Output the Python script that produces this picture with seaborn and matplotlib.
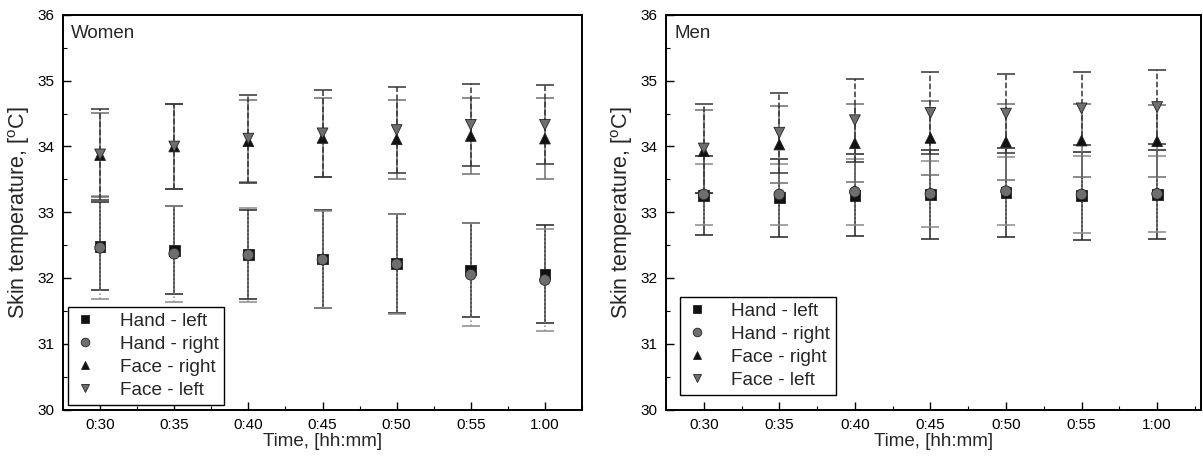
import numpy as np
import pandas as pd
import matplotlib
matplotlib.use("Agg")
import matplotlib.pyplot as plt
from matplotlib.ticker import MultipleLocator
import seaborn as sns

# Measurement times (hh:mm after start)
times = ["0:30", "0:35", "0:40", "0:45", "0:50", "0:55", "1:00"]
sites = ["Hand - left", "Hand - right", "Face - right", "Face - left"]

# Women: mean skin temperature [°C] and standard deviation
women_hand_left = [32.48, 32.42, 32.36, 32.29, 32.22, 32.12, 32.06]
women_hand_left_sd = [0.67, 0.67, 0.68, 0.74, 0.75, 0.72, 0.74]
women_hand_right = [32.46, 32.37, 32.35, 32.28, 32.21, 32.05, 31.97]
women_hand_right_sd = [0.78, 0.73, 0.72, 0.74, 0.76, 0.78, 0.78]
women_face_right = [33.87, 34.00, 34.08, 34.13, 34.11, 34.16, 34.12]
women_face_right_sd = [0.64, 0.65, 0.62, 0.60, 0.60, 0.58, 0.61]
women_face_left = [33.88, 34.00, 34.12, 34.20, 34.25, 34.33, 34.33]
women_face_left_sd = [0.69, 0.65, 0.67, 0.66, 0.65, 0.62, 0.60]

# Men: mean skin temperature [°C] and standard deviation
men_hand_left = [33.25, 33.22, 33.26, 33.27, 33.30, 33.25, 33.27]
men_hand_left_sd = [0.60, 0.59, 0.62, 0.67, 0.67, 0.67, 0.68]
men_hand_right = [33.27, 33.27, 33.31, 33.28, 33.32, 33.27, 33.28]
men_hand_right_sd = [0.47, 0.46, 0.50, 0.50, 0.52, 0.58, 0.58]
men_face_right = [33.93, 34.03, 34.05, 34.13, 34.07, 34.09, 34.08]
men_face_right_sd = [0.63, 0.59, 0.59, 0.56, 0.58, 0.56, 0.55]
men_face_left = [33.97, 34.21, 34.40, 34.51, 34.50, 34.58, 34.60]
men_face_left_sd = [0.67, 0.61, 0.63, 0.62, 0.60, 0.56, 0.56]

women = {
    "Hand - left": (women_hand_left, women_hand_left_sd),
    "Hand - right": (women_hand_right, women_hand_right_sd),
    "Face - right": (women_face_right, women_face_right_sd),
    "Face - left": (women_face_left, women_face_left_sd),
}
men = {
    "Hand - left": (men_hand_left, men_hand_left_sd),
    "Hand - right": (men_hand_right, men_hand_right_sd),
    "Face - right": (men_face_right, men_face_right_sd),
    "Face - left": (men_face_left, men_face_left_sd),
}

markers = {"Hand - left": "s", "Hand - right": "o",
           "Face - right": "^", "Face - left": "v"}
face_colors = {"Hand - left": "#111111", "Hand - right": "#6e6e6e",
               "Face - right": "#111111", "Face - left": "#6e6e6e"}
err_styles = {"Hand - left": ("#222222", "-"), "Hand - right": ("#8a8a8a", ":"),
              "Face - right": ("#6e6e6e", "-"), "Face - left": ("#333333", "--")}

sns.set_theme(style="ticks")
plt.rcParams["font.family"] = ["Liberation Sans", "DejaVu Sans"]
plt.rcParams["mathtext.fontset"] = "custom"
plt.rcParams["mathtext.rm"] = "Liberation Sans"
plt.rcParams["mathtext.it"] = "Liberation Sans"

fig = plt.figure(figsize=(12.03, 4.61), dpi=100)
ax_w = fig.add_axes([0.0524, 0.1117, 0.4314, 0.8558])
ax_m = fig.add_axes([0.5536, 0.1117, 0.4447, 0.8558])


def draw_panel(ax, data, title, xmax, legend_anchor):
    x = np.arange(len(times))
    frames = []
    for site in sites:
        mean, sd = data[site]
        frames.append(pd.DataFrame({"pos": x, "temp": mean, "site": site}))
    df = pd.concat(frames, ignore_index=True)

    for site in sites:
        mean, sd = data[site]
        color, ls = err_styles[site]
        eb = ax.errorbar(x, mean, yerr=sd, fmt="none", ecolor=color,
                         elinewidth=1.1, capsize=6.5, capthick=1.1, zorder=2)
        eb[2][0].set_linestyle(ls)

    sns.scatterplot(data=df, x="pos", y="temp", hue="site", style="site",
                    hue_order=sites, style_order=sites,
                    palette=face_colors, markers=markers, s=60,
                    edgecolor="#222222", linewidth=0.6, ax=ax, zorder=3,
                    legend=True)

    ax.set_xlim(-0.5, xmax)
    ax.set_ylim(30, 36)
    ax.set_xticks(x)
    ax.set_xticklabels(times)
    ax.xaxis.set_minor_locator(MultipleLocator(0.5))
    ax.yaxis.set_major_locator(MultipleLocator(1))
    ax.yaxis.set_minor_locator(MultipleLocator(0.5))
    ax.tick_params(axis="both", which="major", direction="in", length=6,
                   width=1, labelsize=11, pad=6, color="black",
                   labelcolor="black")
    ax.tick_params(axis="both", which="minor", direction="in", length=3,
                   width=0.8, color="black")
    ax.tick_params(top=False, right=False, which="both")
    for sp in ax.spines.values():
        sp.set_color("black")
        sp.set_linewidth(1.4)

    ax.set_xlabel("Time, [hh:mm]", fontsize=13.5, labelpad=1)
    ax.set_ylabel("Skin temperature, [$^{o}$C]", fontsize=15.5, labelpad=4)
    ax.text(0.016, 0.975, title, transform=ax.transAxes, fontsize=13.5,
            ha="left", va="top")

    handles, labels = ax.get_legend_handles_labels()
    leg = ax.legend(handles, labels, loc="lower left",
                    bbox_to_anchor=legend_anchor, fontsize=13.7,
                    frameon=True, fancybox=False, framealpha=1,
                    edgecolor="black", handletextpad=1.2,
                    handlelength=1.2, labelspacing=0.3,
                    borderpad=0.3, borderaxespad=0.0, markerscale=0.8)
    leg.get_frame().set_linewidth(1.0)


draw_panel(ax_w, women, "Women", 6.5, (0.01, 0.012))
draw_panel(ax_m, men, "Men", 6.58, (0.026, 0.038))

fig.savefig("out.png", dpi=100)
